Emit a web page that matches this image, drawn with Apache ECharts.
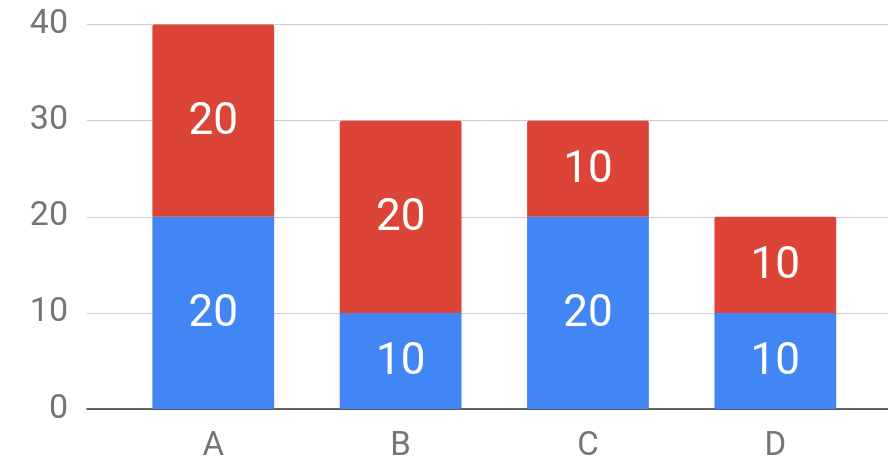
<!DOCTYPE html>
<html>
<head>
<meta charset="utf-8">
<script src="https://cdn.jsdelivr.net/npm/echarts@6/dist/echarts.min.js"></script>
<style>
  html, body { margin: 0; padding: 0; background: #fff; }
  #chart { width: 888px; height: 460px; }
</style>
</head>
<body>
<div id="chart"></div>
<script>
// data
const categories = ['A', 'B', 'C', 'D'];
const blueValues = [20, 10, 20, 10];
const redValues = [20, 20, 10, 10];
const yTicks = [0, 10, 20, 30, 40];

const chart = echarts.init(document.getElementById('chart'));

const barLabel = {
  show: true,
  position: 'inside',
  offset: [0, 2],
  color: '#fff',
  fontFamily: 'Roboto',
  fontSize: 44
};

chart.setOption({
  animation: false,
  textStyle: { fontFamily: 'Roboto' },
  grid: [
    // full width grid: gridlines, y labels, baseline
    { left: 87, right: 0, top: 24.5, bottom: 51, outerBoundsMode: 'none' },
    // bars sit in a slightly narrower band
    { left: 119.6, right: 19, top: 24.5, bottom: 51, outerBoundsMode: 'none' }
  ],
  xAxis: [
    {
      gridIndex: 0, type: 'value', min: 0, max: 1,
      axisLine: { show: true, lineStyle: { color: '#333', width: 1.5 } },
      axisTick: { show: false }, axisLabel: { show: false }, splitLine: { show: false }
    },
    {
      gridIndex: 1, type: 'category', data: categories,
      axisLine: { show: false }, axisTick: { show: false },
      axisLabel: { color: '#757575', fontSize: 33, margin: 21 }
    }
  ],
  yAxis: [
    {
      gridIndex: 0, type: 'value', min: yTicks[0], max: yTicks[yTicks.length - 1], interval: 10,
      axisLine: { show: false }, axisTick: { show: false },
      axisLabel: { color: '#757575', fontSize: 34, margin: 19 },
      splitLine: { lineStyle: { color: '#cccccc', width: 1 } }
    },
    {
      gridIndex: 1, type: 'value', min: 0, max: 40, show: false
    }
  ],
  series: [
    {
      type: 'bar', stack: 'total', xAxisIndex: 1, yAxisIndex: 1,
      data: blueValues, barWidth: '65%',
      itemStyle: { color: '#4285F4' },
      label: barLabel
    },
    {
      type: 'bar', stack: 'total', xAxisIndex: 1, yAxisIndex: 1,
      data: redValues, barWidth: '65%',
      itemStyle: { color: '#DB4437', borderRadius: [2, 2, 0, 0] },
      label: barLabel
    }
  ]
});
</script>
</body>
</html>
